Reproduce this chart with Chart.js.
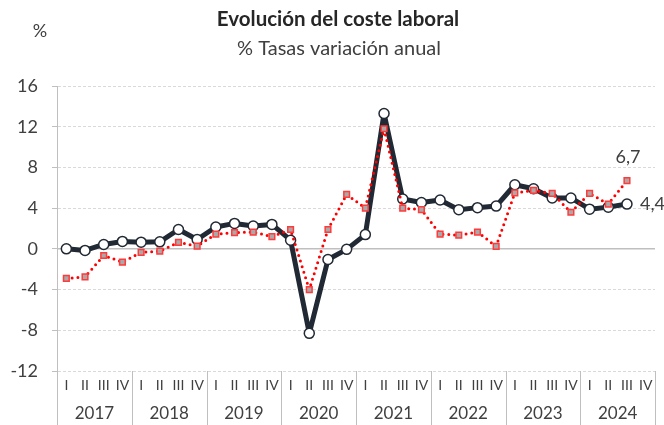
<!DOCTYPE html>
<html>
<head>
<meta charset="utf-8">
<script src="https://cdn.jsdelivr.net/npm/chart.js@4/dist/chart.umd.min.js"></script>
<style>
html,body{margin:0;padding:0;background:#fff;}
canvas{display:block;}
</style>
</head>
<body>
<canvas id="c" width="664" height="425"></canvas>
<script>
const years = ['2017','2018','2019','2020','2021','2022','2023','2024'];
const quarterNames = ['I','II','III','IV'];
const quarters = [];
years.forEach(() => quarterNames.forEach(q => quarters.push(q)));

// Black series (coste laboral total)
const costeTotal = [0.0,-0.15,0.43,0.73, 0.66,0.69,1.9,0.92, 2.15,2.5,2.25,2.4, 0.85,-8.3,-1.05,-0.05,
  1.4,13.3,4.9,4.55, 4.8,3.85,4.05,4.2, 6.3,5.9,5.0,5.0, 3.9,4.1,4.4,null];
// Red dotted series
const costeSalarial = [-2.9,-2.75,-0.65,-1.3, -0.35,-0.23,0.63,0.27, 1.45,1.6,1.65,1.2, 1.9,-4.0,1.9,5.35,
  4.0,11.8,4.0,3.85, 1.45,1.35,1.65,0.25, 5.5,5.75,5.45,3.6, 5.45,4.4,6.7,null];

const yTicks = [-12,-8,-4,0,4,8,12,16];

const FONT = 'Lato, "Open Sans", sans-serif';
const TXT = '#404040';

function lastIndex(arr){ for(let i=arr.length-1;i>=0;i--) if(arr[i]!==null) return i; return -1; }
function fmt(v){ return v.toFixed(1).replace('.', ','); }

const deco = {
  id: 'deco',
  beforeDatasetsDraw(chart){
    const {ctx, chartArea, scales} = chart;
    const y0 = scales.y.getPixelForValue(0);
    ctx.save();
    ctx.strokeStyle = '#bfbfbf';
    ctx.lineWidth = 1.5;
    ctx.beginPath();
    ctx.moveTo(chartArea.left, y0);
    ctx.lineTo(chartArea.right, y0);
    ctx.stroke();
    ctx.restore();
  },
  afterDraw(chart){
    const {ctx, chartArea, scales} = chart;
    const xs = scales.x, ys = scales.y;
    ctx.save();
    // titles
    ctx.fillStyle = '#262626';
    ctx.textAlign = 'center';
    ctx.textBaseline = 'middle';
    ctx.font = 'bold 20.5px ' + FONT;
    ctx.fillText('Evolución del coste laboral', 338, 19);
    ctx.font = '20px ' + FONT;
    ctx.fillStyle = TXT;
    ctx.fillText('% Tasas variación anual', 339, 49);
    ctx.font = '18px ' + FONT;
    ctx.fillText('%', 40, 31);

    // year separators and labels
    ctx.strokeStyle = '#bfbfbf';
    ctx.lineWidth = 1;
    for (let g = 0; g <= years.length; g++) {
      let x;
      if (g === 0) x = chartArea.left;
      else if (g === years.length) x = chartArea.right;
      else x = (xs.getPixelForValue(4*g) + xs.getPixelForValue(4*g-1)) / 2;
      x = Math.round(x) + 0.5;
      ctx.beginPath();
      ctx.moveTo(x, chartArea.bottom);
      ctx.lineTo(x, 425);
      ctx.stroke();
    }
    ctx.fillStyle = TXT;
    ctx.font = '17px ' + FONT;
    years.forEach((yr, g) => {
      const cx = (xs.getPixelForValue(4*g) + xs.getPixelForValue(4*g+3)) / 2;
      ctx.fillText(yr, cx, 414);
    });

    // end labels
    const iR = lastIndex(costeSalarial);
    const iB = lastIndex(costeTotal);
    ctx.font = '18px ' + FONT;
    ctx.fillStyle = TXT;
    ctx.textAlign = 'center';
    ctx.fillText(fmt(costeSalarial[iR]), xs.getPixelForValue(iR) + 1, ys.getPixelForValue(costeSalarial[iR]) - 23);
    ctx.textAlign = 'left';
    ctx.fillText(fmt(costeTotal[iB]), xs.getPixelForValue(iB) + 13, ys.getPixelForValue(costeTotal[iB]));
    ctx.restore();
  }
};

new Chart(document.getElementById('c'), {
  type: 'line',
  data: {
    labels: quarters,
    datasets: [
      {
        label: 'Coste laboral total',
        data: costeTotal,
        borderColor: '#212934',
        borderWidth: 5,
        borderJoinStyle: 'round',
        pointRadius: 5,
        pointBackgroundColor: '#ffffff',
        pointBorderColor: '#212934',
        pointBorderWidth: 1.5,
        tension: 0,
        order: 2
      },
      {
        label: 'Coste salarial',
        data: costeSalarial,
        borderColor: '#ff0000',
        borderWidth: 3,
        borderDash: [0, 5.8],
        borderCapStyle: 'round',
        borderJoinStyle: 'round',
        pointStyle: 'rect',
        pointRadius: 4,
        pointBackgroundColor: '#a9a9a9',
        pointBorderColor: '#ff3b3b',
        pointBorderWidth: 1.5,
        tension: 0,
        order: 1
      }
    ]
  },
  options: {
    responsive: false,
    animation: false,
    devicePixelRatio: 1,
    layout: { padding: { top: 86, right: 9, bottom: 0, left: 0 } },
    plugins: { legend: { display: false }, tooltip: { enabled: false }, title: { display: false } },
    scales: {
      x: {
        type: 'category',
        offset: true,
        grid: { display: false, drawTicks: false },
        border: { display: false },
        ticks: { autoSkip: false, maxRotation: 0, minRotation: 0, padding: 6, color: TXT, font: { family: FONT, size: 14 } },
        afterFit(s){ s.height = 54; }
      },
      y: {
        min: -12, max: 16,
        afterBuildTicks(s){ s.ticks = yTicks.map(v => ({ value: v })); },
        grid: { color: '#d9d9d9', lineWidth: 1, tickLength: 5, tickColor: '#bfbfbf', tickBorderDash: [] },
        border: { display: true, color: '#bfbfbf', width: 1, dash: [3, 2] },
        ticks: { padding: 14, color: TXT, font: { family: FONT, size: 18 }, callback: v => String(v) },
        afterFit(s){ s.width = 57; }
      }
    }
  },
  plugins: [deco]
});
</script>
</body>
</html>
